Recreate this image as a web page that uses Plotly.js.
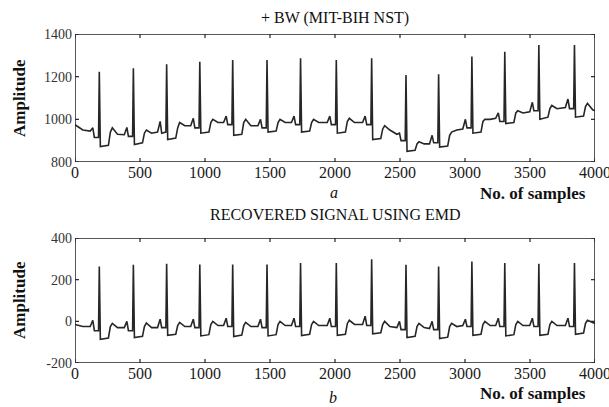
<!DOCTYPE html>
<html>
<head>
<meta charset="utf-8">
<script src="https://cdn.plot.ly/plotly-3.0.1.min.js"></script>
<style>
html,body{margin:0;padding:0;background:#fff;}
#chart{width:609px;height:407px;}
</style>
</head>
<body>
<div id="chart"></div>
<script>
// Sample index of each traced vertex (shared by both panels)
const samples = [
  0, 60,
  117,137,149,181,187,195,257,272,287,327,
  379,399,411,443,449,457,519,534,549,589,
  635,655,667,699,705,713,775,790,805,845,
  890,910,922,954,960,968,1030,1045,1060,1100,
  1143,1163,1175,1207,1213,1221,1283,1298,1313,1353,
  1407,1427,1439,1471,1477,1485,1547,1562,1577,1617,
  1665,1685,1697,1729,1735,1743,1805,1820,1835,1875,
  1940,1960,1972,2004,2010,2018,2080,2095,2110,2150,
  2212,2232,2244,2276,2282,2290,2352,2367,2382,2422,
  2476,2496,2508,2540,2546,2554,2616,2631,2646,2686,
  2727,2747,2759,2791,2797,2805,2867,2882,2897,2937,
  2983,3003,3015,3047,3053,3061,3123,3138,3153,3193,
  3236,3256,3268,3300,3306,3314,3376,3391,3406,3446,
  3498,3518,3530,3562,3568,3576,3638,3653,3668,3708,
  3772,3792,3804,3836,3842,3850,3912,3927,3942,3982,
  4000
];

// (a) ECG + baseline wander (MIT-BIH NST)
const bwSignal = [
  975, 950,
  945,960,915,915,1223,872,878,940,960,930,
  928,962,920,920,1239,882,890,935,950,935,
  940,990,935,940,1258,905,912,960,985,970,
  970,1005,960,960,1270,935,940,985,1000,985,
  985,1015,975,975,1278,925,930,985,1000,970,
  970,1000,960,960,1278,940,945,985,1000,985,
  985,1015,975,975,1286,940,945,985,1000,985,
  985,1015,975,975,1278,935,940,990,1005,985,
  985,1015,975,975,1286,905,910,955,970,950,
  930,935,900,900,1208,850,855,885,895,885,
  885,925,890,890,1211,870,875,925,940,950,
  955,1000,960,960,1294,935,940,990,1000,1000,
  1005,1030,990,990,1317,980,985,1030,1040,1030,
  1035,1080,1040,1040,1348,1000,1010,1050,1065,1050,
  1055,1095,1050,1050,1348,1010,1015,1060,1075,1045,
  1040
];

// (b) recovered signal using EMD
const recovered = [
  -15, -25,
  -25,5,-45,-45,263,-86,-80,-25,-10,-30,
  -30,0,-45,-45,271,-78,-72,-25,-8,-30,
  -30,10,-30,-30,276,-67,-62,-20,-5,-25,
  -25,10,-30,-30,273,-70,-64,-15,0,-20,
  -20,15,-25,-25,273,-73,-66,-20,-5,-25,
  -25,10,-30,-30,273,-70,-64,-15,0,-20,
  -20,15,-25,-25,280,-68,-62,-15,0,-20,
  -20,15,-25,-25,280,-67,-62,-10,5,-15,
  -15,25,-20,-20,298,-60,-55,-15,0,-25,
  -30,0,-40,-40,271,-78,-72,-25,-10,-30,
  -35,0,-40,-40,263,-83,-76,-25,-10,-25,
  -20,10,-25,-25,287,-67,-62,-15,0,-20,
  -20,15,-25,-25,280,-70,-64,-15,0,-20,
  -20,15,-25,-25,276,-67,-62,-15,0,-20,
  -20,15,-25,-25,280,-62,-56,-10,5,-5,
  -10
];

const xTicks = [0,500,1000,1500,2000,2500,3000,3500,4000];
const yTicksA = [800,1000,1200,1400];
const yTicksB = [-200,0,200,400];
const xRange = [0,4000];
const yRangeA = [800,1400];
const yRangeB = [-200,400];

const titleA = "+ BW (MIT-BIH NST)";
const titleB = "RECOVERED SIGNAL USING EMD";
const xLabel = "No. of samples";
const yLabel = "Amplitude";

const serif = "Liberation Serif, Times New Roman, serif";
const lineStyle = {color:"#262626", width:1.6};
const frameStyle = {color:"#222", width:1.5};
const tickStyle = {color:"#222", width:1.2};

const W = 609, H = 407;
const px = v => v / W;
const py = v => (H - v) / H;

// pixel geometry of the two plot boxes
const boxX = [75, 595];
const boxA = [34, 162];
const boxB = [238, 363];
const TICK_PX = 4;

const traces = [
  {x:samples, y:bwSignal, type:"scatter", mode:"lines", line:lineStyle, xaxis:"x", yaxis:"y", hoverinfo:"skip"},
  {x:samples, y:recovered, type:"scatter", mode:"lines", line:lineStyle, xaxis:"x2", yaxis:"y2", hoverinfo:"skip"}
];

// frame + inside ticks on all four sides (axis lines are drawn as line traces)
function frameAndTicks(xa, ya, yr, box) {
  const dx = TICK_PX * (xRange[1]-xRange[0]) / (boxX[1]-boxX[0]);
  const dy = TICK_PX * (yr[1]-yr[0]) / (box[1]-box[0]);
  traces.push({
    x:[xRange[0], xRange[1], xRange[1], xRange[0], xRange[0]],
    y:[yr[0], yr[0], yr[1], yr[1], yr[0]],
    type:"scatter", mode:"lines", line:frameStyle, xaxis:xa, yaxis:ya,
    hoverinfo:"skip", cliponaxis:false
  });
  const tx = [], ty = [];
  xTicks.forEach(v => {
    tx.push(v, v, null, v, v, null);
    ty.push(yr[0], yr[0]+dy, null, yr[1]-dy, yr[1], null);
  });
  (ya === "y" ? yTicksA : yTicksB).forEach(v => {
    tx.push(xRange[0], xRange[0]+dx, null, xRange[1]-dx, xRange[1], null);
    ty.push(v, v, null, v, v, null);
  });
  traces.push({x:tx, y:ty, type:"scatter", mode:"lines", line:tickStyle,
    xaxis:xa, yaxis:ya, hoverinfo:"skip", cliponaxis:false, connectgaps:false});
}
frameAndTicks("x", "y", yRangeA, boxA);
frameAndTicks("x2", "y2", yRangeB, boxB);

function xAx(anchor) {
  return {
    domain:[px(boxX[0]), px(boxX[1])], range:xRange, anchor:anchor,
    tickmode:"array", tickvals:xTicks, ticktext:xTicks.map(String),
    tickfont:{family:serif, size:16, color:"#1a1a1a"},
    ticklabeloverflow:"allow", ticklabelstandoff:-1,
    showline:false, ticks:"", showgrid:false, zeroline:false
  };
}
function yAx(anchor, box, rng, vals) {
  return {
    domain:[py(box[1]), py(box[0])], range:rng, anchor:anchor,
    tickmode:"array", tickvals:vals, ticktext:vals.map(String),
    tickfont:{family:serif, size:14, color:"#333"},
    ticklabeloverflow:"allow", ticklabelstandoff:2,
    showline:false, ticks:"", showgrid:false, zeroline:false
  };
}

function ann(text, x, y, size, extra) {
  return Object.assign({text:text, x:px(x), y:py(y), xref:"paper", yref:"paper",
    xanchor:"center", yanchor:"middle", showarrow:false,
    font:{family:serif, size:size, color:"#111"}}, extra || {});
}

const layout = {
  width:W, height:H,
  margin:{l:0, r:0, t:0, b:0},
  paper_bgcolor:"#fff", plot_bgcolor:"rgba(0,0,0,0)",
  showlegend:false,
  font:{family:serif, color:"#111"},
  xaxis:xAx("y"),
  yaxis:yAx("x", boxA, yRangeA, yTicksA),
  xaxis2:xAx("y2"),
  yaxis2:yAx("x2", boxB, yRangeB, yTicksB),
  annotations:[
    ann(titleA, 335, 18, 16),
    ann(titleB, 335, 214, 16),
    ann("<b>"+yLabel+"</b>", 19, 98, 17, {textangle:-90}),
    ann("<b>"+yLabel+"</b>", 19, 300, 17, {textangle:-90}),
    ann("<i>a</i>", 334, 192, 16),
    ann("<b>"+xLabel+"</b>", 533, 194, 17),
    ann("<i>b</i>", 333, 397, 16),
    ann("<b>"+xLabel+"</b>", 533, 393, 17)
  ]
};

Plotly.newPlot("chart", traces, layout, {displayModeBar:false});
</script>
</body>
</html>
